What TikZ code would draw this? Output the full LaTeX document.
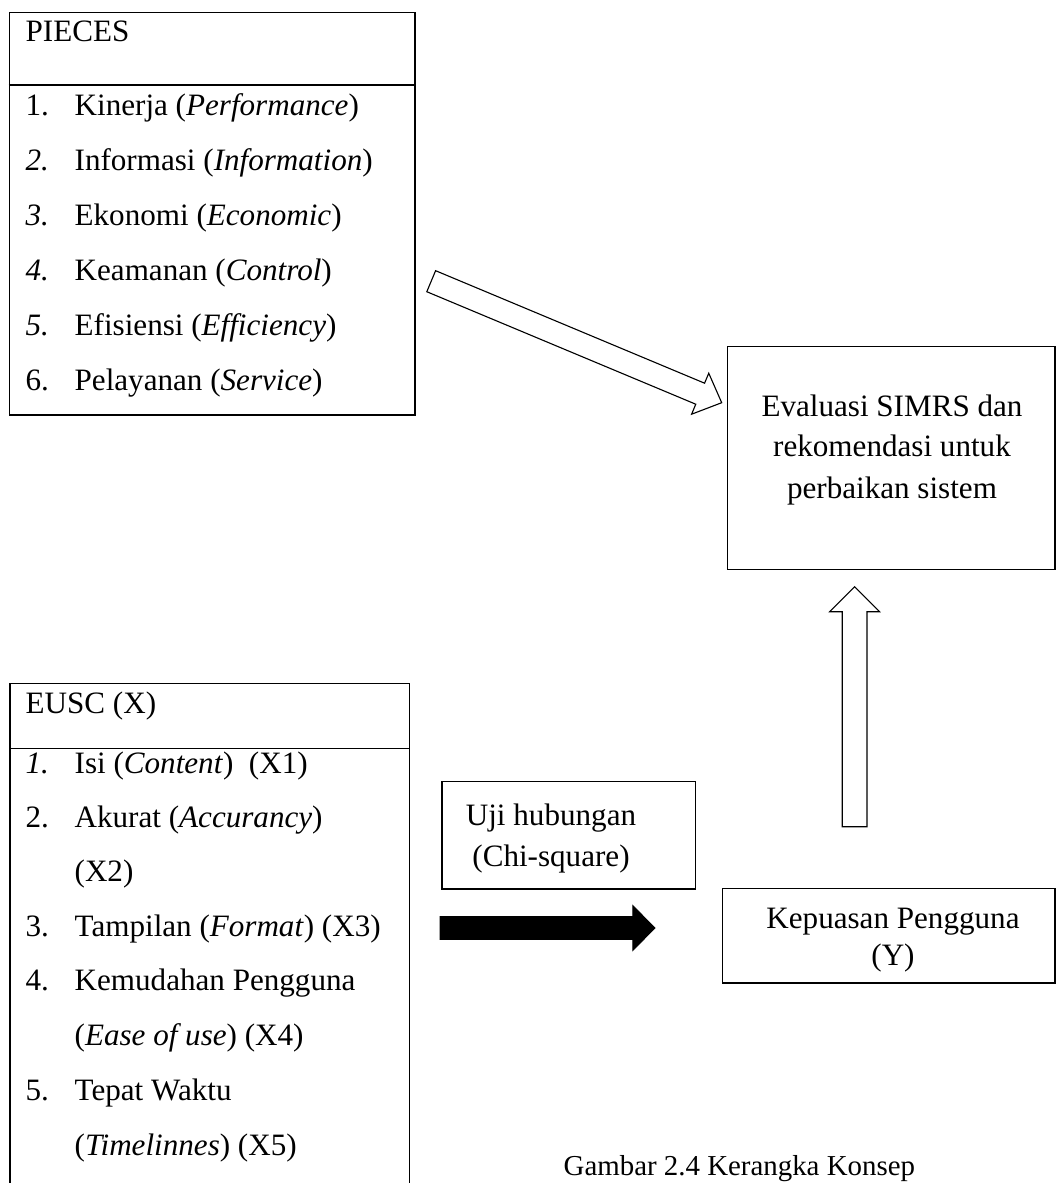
\documentclass[tikz,border=0pt]{standalone}
\usepackage{fontspec}
\setmainfont{Liberation Serif}
\usetikzlibrary{calc,fit}
% block arrow: [opts]{tail}{tip}{shaft half width}{head half width}{head length}
\newcommand\blockarrow[6][]{%
  \coordinate (ba-h) at ($(#3)!#6!(#2)$);
  \draw[#1] ($(#2)!#4!90:(#3)$) -- ($(ba-h)!#4!90:(#3)$) -- ($(ba-h)!#5!90:(#3)$)
    -- (#3) -- ($(ba-h)!#5!-90:(#3)$) -- ($(ba-h)!#4!-90:(#3)$)
    -- ($(#2)!#4!-90:(#3)$) -- cycle;}
\begin{document}
\begin{tikzpicture}[x=0.45pt,y=-0.45pt,line width=0.6pt,
  box/.style={draw,inner sep=0pt,fit={#1}},
  txt/.style={anchor=base west,inner sep=0pt,font=\fontsize{14}{16}\selectfont},
  ctxt/.style={anchor=base,inner sep=0pt,font=\fontsize{14}{16}\selectfont},
  hollow/.style={draw,fill=white,line width=0.5pt,line join=miter}]
\path[use as bounding box] (0,0) rectangle (1057,1183);
\clip (0,0) rectangle (1057,1183);

% ---- PIECES box
\node[box={(9.3,12.7) (415,415)}] (pieces) {};
\draw (pieces.west |- 0,85) -- (pieces.east |- 0,85);
\node[txt] (pT) at (25,41.7) {PIECES};
\node[txt] (pn1) at (25,115) {1.};  \node[txt] (p1) at (74,115) {Kinerja (\textit{Performance})};
\node[txt] (pn2) at (25,170) {\textit{2.}}; \node[txt] (p2) at (74,170) {Informasi (\textit{Information})};
\node[txt] (pn3) at (25,225) {\textit{3.}}; \node[txt] (p3) at (74,225) {Ekonomi (\textit{Economic})};
\node[txt] (pn4) at (25,280) {\textit{4.}}; \node[txt] (p4) at (74,280) {Keamanan (\textit{Control})};
\node[txt] (pn5) at (25,335) {\textit{5.}}; \node[txt] (p5) at (74,335) {Efisiensi (\textit{Efficiency})};
\node[txt] (pn6) at (25,390) {6.};  \node[txt] (p6) at (74,390) {Pelayanan (\textit{Service})};

% ---- Evaluasi box
\node[box={(727.7,346.7) (1055,569.3)}] (eval) {};
\node[ctxt] (e1) at (892,416.7) {Evaluasi SIMRS dan};
\node[ctxt] (e2) at (892,456.7) {rekomendasi untuk};
\node[ctxt] (e3) at (892,498) {perbaikan sistem};

% ---- EUSC box (runs off the bottom of the page)
\node[box={(10,683.3) (409.3,1200)}] (eusc) {};
\draw (eusc.west |- 0,748.3) -- (eusc.east |- 0,748.3);
\node[txt] (xT) at (25,713.3) {EUSC (X)};
\node[txt] (xn1) at (25,773) {\textit{1.}}; \node[txt] (x1) at (74,773) {Isi (\textit{Content})\ \ (X1)};
\node[txt] (xn2) at (25,827.5) {2.}; \node[txt] (x2) at (74,827.5) {Akurat (\textit{Accurancy})};
\node[txt] (x2b) at (74,881.5) {(X2)};
\node[txt] (xn3) at (25,936) {3.}; \node[txt] (x3) at (74,936) {Tampilan (\textit{Format}) (X3)};
\node[txt] (xn4) at (25,990.5) {4.}; \node[txt] (x4) at (74,990.5) {Kemudahan Pengguna};
\node[txt] (x4b) at (74,1045.5) {(\textit{Ease of use}) (X4)};
\node[txt] (xn5) at (25,1100) {5.}; \node[txt] (x5) at (74,1100) {Tepat Waktu};
\node[txt] (x5b) at (74,1155) {(\textit{Timelinnes}) (X5)};

% ---- Uji hubungan box
\node[box={(442,781.7) (695.3,889)}] (uji) {};
\node[ctxt] (u1) at (551,825) {Uji hubungan};
\node[ctxt] (u2) at (551,866) {(Chi-square)};

% ---- Kepuasan box
\node[box={(722.5,888.3) (1055,983)}] (kep) {};
\node[ctxt] (k1) at (893,928.3) {Kepuasan Pengguna};
\node[ctxt] (k2) at (893,965) {(Y)};

% ---- caption
\node[anchor=base west,inner sep=0pt,font=\fontsize{13}{15}\selectfont] (cap) at (563,1175) {Gambar 2.4 Kerangka Konsep};

% ---- arrows
\coordinate (dtail) at (431.2,281.2);
\coordinate (dtip) at (721.7,402.7);
\blockarrow[hollow]{dtail}{dtip}{5.13pt}{10.0pt}{10.5pt}

\coordinate (utail) at (854.6,826.7);
\coordinate (utip) at (854.6,586.7);
\blockarrow[hollow]{utail}{utip}{5.56pt}{11.25pt}{11.25pt}

\coordinate (btail) at (440,928);
\coordinate (btip) at (655,928);
\blockarrow[fill=black,draw=black,line width=0.4pt,line join=miter]{btail}{btip}{5.1pt}{10.1pt}{10pt}
\end{tikzpicture}
\end{document}
